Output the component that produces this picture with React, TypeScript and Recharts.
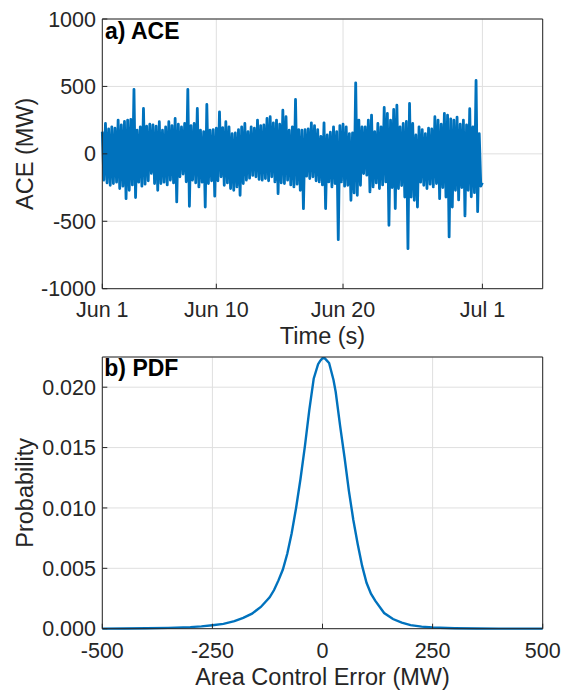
import React from "react"
import { CartesianGrid, Label, Line, LineChart, XAxis, YAxis } from "recharts"

const FONT = '"Liberation Sans", Arial, Helvetica, sans-serif'
const BLUE = "#0072BD"
const AXIS = "#262626"
const GRID = "#dfdfdf"

// a) ACE: peak and trough read off every quarter day, Jun 1 (day 0) .. Jul 1 (day 30)
const aceStep = 0.25
const aceHighs = [
  165, 225, 185, 200, 190, 250, 215, 240, 250, 255,
  478, 175, 200, 337, 205, 220, 215, 205, 238, 175,
  200, 238, 210, 262, 220, 200, 225, 478, 210, 225,
  337, 175, 165, 366, 175, 180, 190, 312, 195, 238,
  200, 150, 155, 180, 200, 225, 165, 200, 190, 250,
  210, 215, 262, 275, 230, 250, 220, 324, 275, 175,
  200, 403, 180, 175, 180, 185, 230, 210, 180, 130,
  230, 140, 160, 200, 165, 210, 220, 200, 150, 155,
  527, 250, 200, 200, 250, 287, 165, 225, 200, 344,
  300, 250, 329, 361, 200, 225, 240, 374, 225, 140,
  200, 180, 150, 190, 185, 275, 250, 220, 300, 287,
  260, 250, 273, 220, 250, 215, 335, 200, 544, 150,
]
const aceLows = [
  -195, -215, -233, -220, -210, -257, -240, -332, -270, -230,
  -324, -210, -240, -225, -200, -145, -220, -270, -220, -210,
  -230, -195, -215, -356, -170, -150, -207, -389, -195, -215,
  -245, -210, -394, -220, -200, -314, -200, -170, -233, -215,
  -257, -270, -245, -307, -220, -195, -180, -160, -170, -190,
  -195, -183, -200, -170, -208, -295, -215, -220, -195, -230,
  -245, -225, -270, -406, -165, -183, -170, -200, -208, -230,
  -406, -208, -245, -220, -636, -208, -240, -233, -344, -290,
  -307, -233, -146, -158, -282, -245, -215, -257, -230, -208,
  -530, -250, -406, -257, -235, -320, -703, -320, -344, -394,
  -210, -233, -257, -225, -245, -220, -332, -250, -320, -616,
  -394, -270, -342, -250, -460, -270, -318, -288, -429, -240,
]
const aceLast = -214

const dayTicks = [0, 9, 19, 30]
const dayTickLabels = ["Jun 1", "Jun 10", "Jun 20", "Jul 1"]
const dayMax = 34.76
const aceTicks = [-1000, -500, 0, 500, 1000]

// b) PDF of the area control error
const pdfErr = [
  -500, -450, -400, -350, -300, -275, -250, -225, -200, -180, -160, -140, -120,
  -110, -100, -90, -80, -70, -60, -50, -40, -30, -20, -10, -5, 0, 5, 10, 15, 20,
  25, 30, 40, 50, 60, 70, 80, 90, 100, 110, 120, 140, 160, 180, 200, 225, 250,
  300, 350, 400, 450, 500,
]
const pdfProb = [
  0.00001, 0.00002, 0.00004, 0.00007, 0.00013, 0.00019, 0.00029, 0.0004,
  0.00062, 0.0009, 0.00125, 0.0018, 0.0026, 0.0032, 0.004, 0.0049, 0.0062,
  0.0079, 0.01, 0.0124, 0.0151, 0.0181, 0.0207, 0.0219, 0.0222, 0.0224, 0.0224,
  0.0222, 0.022, 0.0213, 0.0206, 0.0196, 0.0168, 0.0142, 0.0114, 0.009, 0.007,
  0.0052, 0.0038, 0.0029, 0.0023, 0.0013, 0.0008, 0.0005, 0.0003, 0.00017,
  0.0001, 0.00004, 0.00002, 0.00001, 0.000005, 0.000003,
]
const errTicks = [-500, -250, 0, 250, 500]
const probTicks = [0, 0.005, 0.01, 0.015, 0.02]
const probMax = 0.0225

const aceData: { t: number; v: number }[] = []
aceHighs.forEach((h, i) => {
  aceData.push({ t: i * aceStep, v: h })
  aceData.push({ t: i * aceStep + aceStep / 2, v: aceLows[i] })
})
aceData.push({ t: aceHighs.length * aceStep, v: aceLast })

const pdfData = pdfErr.map((e, i) => ({ e, p: pdfProb[i] }))

const tickStyle = { fill: AXIS, fontSize: 21.5, fontFamily: FONT }
const labelStyle = { fill: AXIS, fontSize: 23.5, fontFamily: FONT }
const titleStyle = { fill: "#000", fontSize: 23, fontWeight: "bold", fontFamily: FONT }

function AcePanel() {
  return (
    <LineChart
      width={561}
      height={352}
      data={aceData}
      margin={{ top: 18, right: 17.3, left: 0, bottom: 0 }}
    >
      <CartesianGrid stroke={GRID} />
      <XAxis
        dataKey="t"
        type="number"
        domain={[0, dayMax]}
        ticks={dayTicks}
        interval={0}
        tickFormatter={(d) => dayTickLabels[dayTicks.indexOf(d)] ?? ""}
        height={63.3}
        tickSize={-5}
        tickMargin={18.3}
        stroke={AXIS}
        tick={tickStyle}
      >
        <Label value="Time (s)" position="insideBottom" offset={8} {...labelStyle} />
      </XAxis>
      <XAxis
        xAxisId="top"
        orientation="top"
        dataKey="t"
        type="number"
        domain={[0, dayMax]}
        ticks={dayTicks}
        interval={0}
        height={1}
        tick={false}
        tickSize={-5}
        stroke={AXIS}
      >
        <Label value="a) ACE" position="insideTopLeft" offset={5} dx={-2.3} {...titleStyle} />
      </XAxis>
      <YAxis
        type="number"
        domain={[-1000, 1000]}
        ticks={aceTicks}
        interval={0}
        width={102.3}
        tickSize={-5}
        tickMargin={11.3}
        stroke={AXIS}
        tick={tickStyle}
      >
        <Label value="ACE (MW)" position="center" angle={-90} dx={-26} {...labelStyle} />
      </YAxis>
      <YAxis
        yAxisId="right"
        orientation="right"
        type="number"
        domain={[-1000, 1000]}
        ticks={aceTicks}
        interval={0}
        width={1}
        tick={false}
        tickSize={-5}
        stroke={AXIS}
      />
      <Line
        dataKey="v"
        stroke={BLUE}
        strokeWidth={2.8}
        strokeLinejoin="round"
        dot={false}
        activeDot={false}
        isAnimationActive={false}
      />
    </LineChart>
  )
}

function PdfPanel() {
  return (
    <LineChart
      width={561}
      height={346}
      data={pdfData}
      margin={{ top: 11, right: 17.3, left: 0, bottom: 0 }}
    >
      <CartesianGrid stroke={GRID} />
      <XAxis
        dataKey="e"
        type="number"
        domain={[-500, 500]}
        ticks={errTicks}
        interval={0}
        height={62.3}
        tickSize={-5}
        tickMargin={19}
        stroke={AXIS}
        tick={tickStyle}
      >
        <Label value="Area Control Error (MW)" position="insideBottom" offset={6} {...labelStyle} />
      </XAxis>
      <XAxis
        xAxisId="top"
        orientation="top"
        dataKey="e"
        type="number"
        domain={[-500, 500]}
        ticks={errTicks}
        interval={0}
        height={1}
        tick={false}
        tickSize={-5}
        stroke={AXIS}
      >
        <Label value="b) PDF" position="insideTopLeft" offset={3.7} dx={-1.7} {...titleStyle} />
      </XAxis>
      <YAxis
        type="number"
        domain={[0, probMax]}
        ticks={probTicks}
        interval={0}
        tickFormatter={(p) => p.toFixed(3)}
        width={102.3}
        tickSize={-5}
        tickMargin={11.3}
        stroke={AXIS}
        tick={tickStyle}
      >
        <Label value="Probability" position="center" angle={-90} dx={-26.5} {...labelStyle} />
      </YAxis>
      <YAxis
        yAxisId="right"
        orientation="right"
        type="number"
        domain={[0, probMax]}
        ticks={probTicks}
        interval={0}
        width={1}
        tick={false}
        tickSize={-5}
        stroke={AXIS}
      />
      <Line
        dataKey="p"
        stroke={BLUE}
        strokeWidth={2.4}
        dot={false}
        activeDot={false}
        isAnimationActive={false}
      />
    </LineChart>
  )
}

export default function App() {
  return (
    <div style={{ position: "absolute", left: 0, top: 0, width: 561, height: 691, background: "#fff" }}>
      <div style={{ position: "absolute", left: 0, top: 0 }}>
        <AcePanel />
      </div>
      <div style={{ position: "absolute", left: 0, top: 345 }}>
        <PdfPanel />
      </div>
    </div>
  )
}
